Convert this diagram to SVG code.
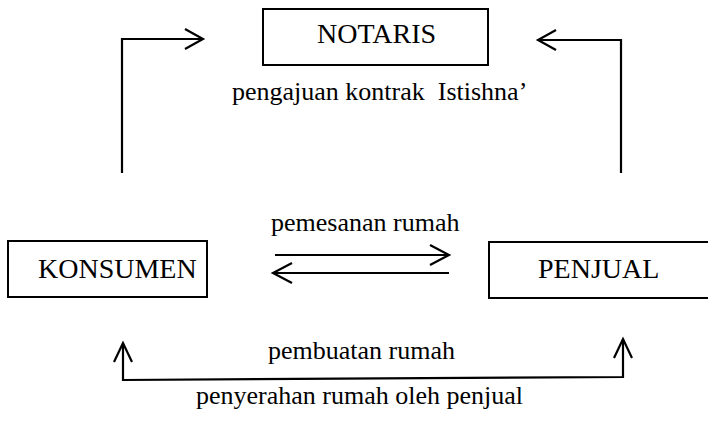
<svg xmlns="http://www.w3.org/2000/svg" width="708" height="423" viewBox="0 0 708 423">
<style>
.box{fill:#fff;stroke:#000;stroke-width:2}
.lbl{font-family:"Liberation Serif","Times New Roman",serif;font-size:28px;fill:#000}
.txt{font-family:"Liberation Serif","Times New Roman",serif;font-size:26px;fill:#000;white-space:pre}
.ln{fill:none;stroke:#000;stroke-width:2.2}
</style>
<rect width="708" height="423" fill="#fff"/>
<g id="notaris"><rect class="box" x="263" y="9" width="225" height="56"/><text class="lbl" x="317" y="43">NOTARIS</text></g>
<g id="konsumen"><rect class="box" x="8" y="241" width="199" height="56"/><text class="lbl" x="38" y="278">KONSUMEN</text></g>
<g id="penjual"><rect class="box" x="489" y="242" width="240" height="56"/><text class="lbl" x="538" y="278">PENJUAL</text></g>
<g id="connectors">
<polyline class="ln" points="122,173 122,39 203,39"/>
<polyline class="ln" points="185,29 203,39 185,49"/>
<polyline class="ln" points="621,173 621,40 538,40"/>
<polyline class="ln" points="556,30 538,40 556,50"/>
<line class="ln" x1="275" y1="255" x2="449" y2="255"/>
<polyline class="ln" points="430,245 449,255 430,265"/>
<line class="ln" x1="449" y1="273" x2="273" y2="273"/>
<polyline class="ln" points="292,263 273,273 292,283"/>
<polyline class="ln" points="123,343 123,380 623,377 623,339"/>
<polyline class="ln" points="114,362 123,343 132,362"/>
<polyline class="ln" points="614,358 623,339 632,358"/>
<text class="txt" x="232" y="100" xml:space="preserve">pengajuan kontrak  Istishna’</text>
<text class="txt" x="271" y="231">pemesanan rumah</text>
<text class="txt" x="268" y="359">pembuatan rumah</text>
<text class="txt" x="196" y="404">penyerahan rumah oleh penjual</text>
</g>
</svg>
